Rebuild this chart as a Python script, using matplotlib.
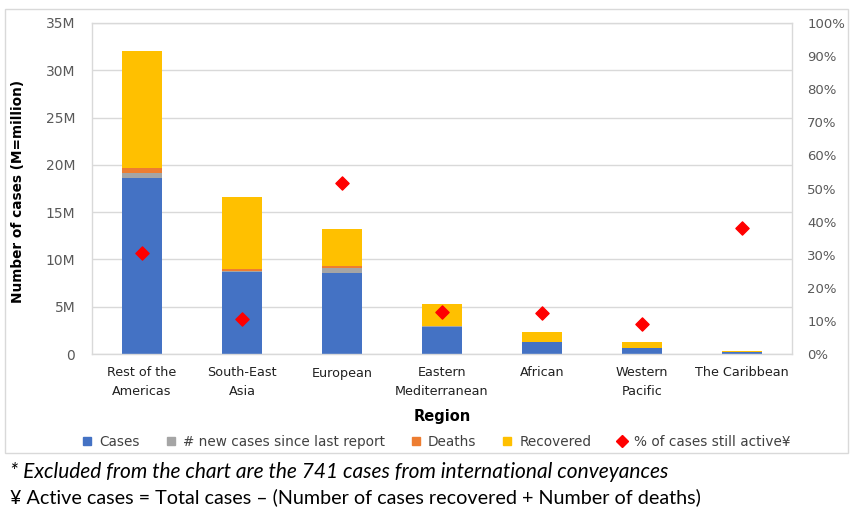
import matplotlib
matplotlib.use("Agg")
import matplotlib.pyplot as plt
from matplotlib.lines import Line2D
from matplotlib.patches import Rectangle
import numpy as np

categories = ["Rest of the\nAmericas", "South-East\nAsia", "European", "Eastern\nMediterranean",
              "African", "Western\nPacific", "The Caribbean"]
cases = [18.64, 8.70, 8.53, 2.89, 1.24, 0.60, 0.21]          # millions
new_cases = [0.45, 0.08, 0.53, 0.03, 0.02, 0.01, 0.005]
deaths = [0.63, 0.17, 0.28, 0.07, 0.04, 0.02, 0.01]
recovered = [12.33, 7.65, 3.88, 2.30, 0.99, 0.61, 0.14]
pct_active = [30.6, 10.5, 51.8, 12.7, 12.3, 9.0, 38.0]

left_ticks = [0, 5, 10, 15, 20, 25, 30, 35]
left_labels = ["0", "5M", "10M", "15M", "20M", "25M", "30M", "35M"]
right_ticks = list(range(0, 101, 10))
right_labels = [f"{v}%" for v in right_ticks]

C_BLUE = "#4472C4"
C_GRAY = "#A5A5A5"
C_ORANGE = "#ED7D31"
C_YELLOW = "#FFC000"
C_RED = "#FF0000"
TICK_COL = "#595959"
GRID_COL = "#D9D9D9"

fig = plt.figure(figsize=(8.5, 5.21), dpi=100)
ax = fig.add_axes([92/850, 1-354/521, 700/850, 331/521])

x = np.arange(len(categories))
w = 0.4
b1 = np.array(cases)
b2 = b1 + np.array(new_cases)
b3 = b2 + np.array(deaths)
ax.bar(x, cases, w, color=C_BLUE, zorder=2)
ax.bar(x, new_cases, w, bottom=b1, color=C_GRAY, zorder=2)
ax.bar(x, deaths, w, bottom=b2, color=C_ORANGE, zorder=2)
ax.bar(x, recovered, w, bottom=b3, color=C_YELLOW, zorder=2)

ax.set_xlim(-0.5, len(categories) - 0.5)
ax.set_ylim(0, 35)
ax.set_yticks(left_ticks)
ax.set_yticklabels(left_labels)
ax.set_xticks(x)
ax.set_xticklabels(categories, fontsize=9.2, color="#202020", linespacing=1.55, va="top")
ax.tick_params(axis="y", colors=TICK_COL, labelsize=10, length=0, pad=12)
ax.tick_params(axis="x", length=0, pad=9)
ax.grid(axis="y", color=GRID_COL, linewidth=1, zorder=0)
for s in ax.spines.values():
    s.set_color(GRID_COL)
    s.set_linewidth(1)

ax.set_ylabel("Number of cases (M=million)", fontsize=9.8, fontweight="bold")
ax.yaxis.set_label_coords((18-92)/700, 0.49)
ax.set_xlabel("Region", fontsize=10.5, fontweight="bold")
ax.xaxis.set_label_coords(0.5, (354-416)/331)
ax.xaxis.label.set_va("center")
ax.yaxis.label.set_va("center")

ax2 = ax.twinx()
ax2.set_ylim(0, 100)
ax2.set_yticks(right_ticks)
ax2.set_yticklabels(right_labels)
ax2.tick_params(axis="y", colors=TICK_COL, labelsize=9.5, length=0, pad=11)
for s in ax2.spines.values():
    s.set_visible(False)
ax2.scatter(x, pct_active, marker="D", s=45, color=C_RED, zorder=5)

# Legend
handles = [
    Line2D([], [], marker="s", linestyle="none", color=C_BLUE, markersize=5.5),
    Line2D([], [], marker="s", linestyle="none", color=C_GRAY, markersize=5.5),
    Line2D([], [], marker="s", linestyle="none", color=C_ORANGE, markersize=5.5),
    Line2D([], [], marker="s", linestyle="none", color=C_YELLOW, markersize=5.5),
    Line2D([], [], marker="D", linestyle="none", color=C_RED, markersize=6.5),
]
labels = ["Cases", "# new cases since last report", "Deaths", "Recovered", "% of cases still active¥"]
fig.legend(handles, labels, loc="center", bbox_to_anchor=(437/850, 1-442/521), ncol=5,
           frameon=False, handlelength=0.6, handletextpad=0.6, columnspacing=1.95,
           labelcolor="#404040", prop={"family": "DejaVu Sans", "size": 9.8})

# Footnotes
fig.text(10/850, 1-472/521, "* Excluded from the chart are the 741 cases from international conveyances",
         fontsize=15, style="italic", family="Lato", va="center", ha="left")
fig.text(10/850, 1-497/521, "¥ Active cases = Total cases \u2013 (Number of cases recovered + Number of deaths)",
         fontsize=14.2, family="Lato", va="center", ha="left")

# Outer chart border
fig.patches.append(Rectangle((5/850, 1-453/521), 843/850, 444/521, transform=fig.transFigure,
                             fill=False, edgecolor=GRID_COL, linewidth=1))

fig.savefig("out.png", dpi=100)
